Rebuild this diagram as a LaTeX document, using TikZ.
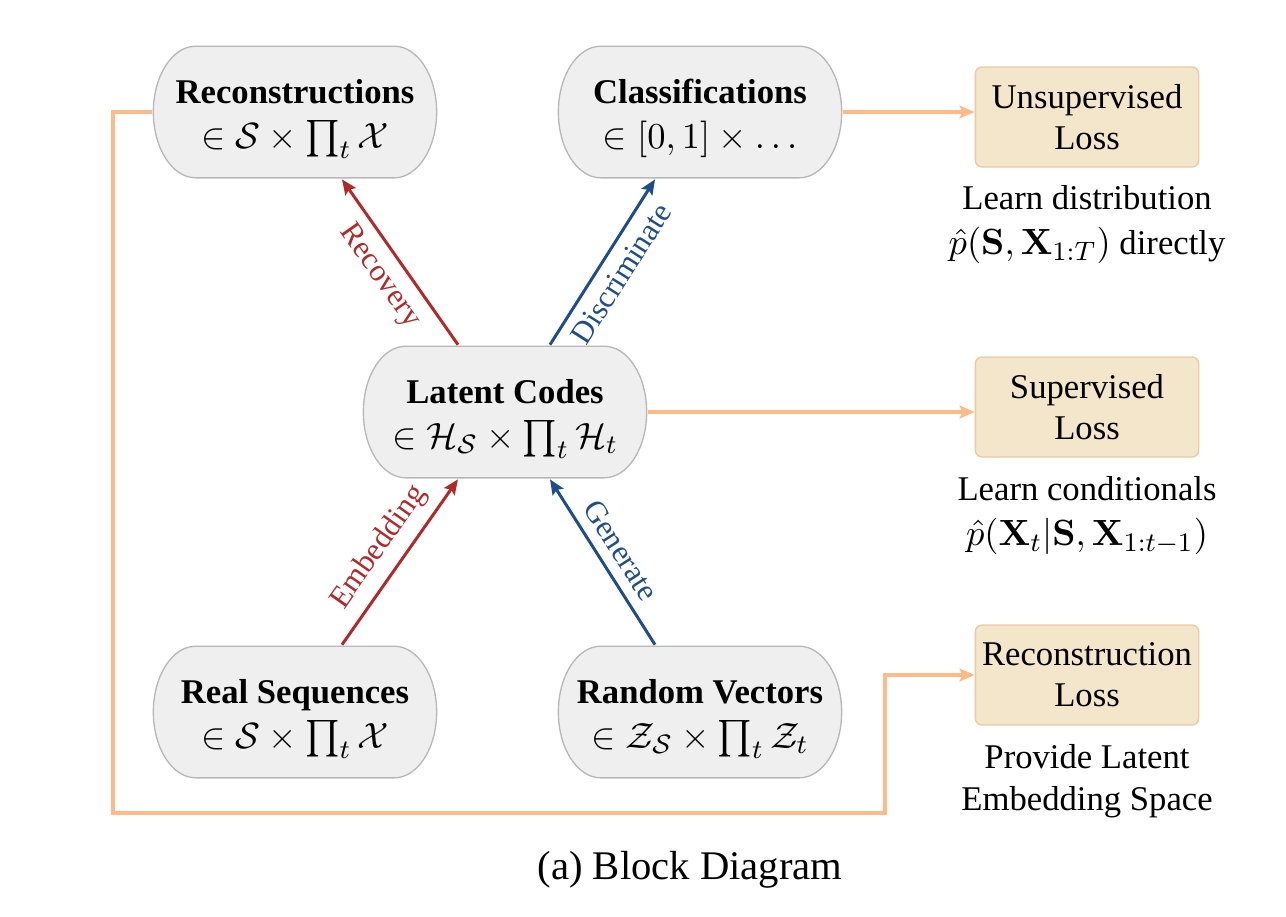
\documentclass[tikz,border=0pt]{standalone}
\usepackage{amsmath}
\usepackage[no-math]{fontspec}
\setmainfont{Liberation Serif}
\usepackage{xcolor}
\usetikzlibrary{arrows.meta}
\definecolor{boxgray}{HTML}{EFEFEF}
\definecolor{boxline}{HTML}{B8B8B8}
\definecolor{lossfill}{HTML}{F4E6CA}
\definecolor{lossline}{HTML}{EBC9A3}
\definecolor{fborange}{HTML}{FFBA8A}
\definecolor{recred}{HTML}{B02A2A}
\definecolor{genblue}{HTML}{1F4D8A}
\newcommand\mathline[1]{{\fontsize{11.3}{13.5}\selectfont$#1$}}
\tikzset{
  stadium/.style={rectangle,minimum width=85.5pt,minimum height=40pt,inner sep=0pt,align=center,
    path picture={\filldraw[draw=boxline,fill=boxgray,line width=0.4pt]
      ([xshift=13pt,yshift=-0.25pt]path picture bounding box.north west)
      -- ([xshift=-13pt,yshift=-0.25pt]path picture bounding box.north east)
      arc[start angle=90,end angle=-90,x radius=12.75pt,y radius=19.75pt]
      -- ([xshift=13pt,yshift=0.25pt]path picture bounding box.south west)
      arc[start angle=270,end angle=90,x radius=12.75pt,y radius=19.75pt] -- cycle;}},
  lossbox/.style={rectangle,rounded corners=2pt,draw=lossline,fill=lossfill,line width=0.4pt,minimum width=67pt,minimum height=30pt,align=center,inner sep=0pt,font=\fontsize{10.4}{12.3}\selectfont},
  note/.style={align=center,inner sep=0pt},
  arrlabel/.style={midway,sloped,inner sep=3pt,font=\fontsize{9.3}{11}\selectfont},
  redarr/.style={draw=recred,line width=0.9pt,-{Stealth[length=4.5pt,width=3.8pt,inset=0.8pt]}},
  bluearr/.style={draw=genblue,line width=0.9pt,-{Stealth[length=4.5pt,width=3.8pt,inset=0.8pt]}},
  fbarr/.style={draw=fborange,line width=1.1pt,-{Stealth[length=4.5pt,width=3.8pt,inset=0.8pt]}}
}

\begin{document}
\begin{tikzpicture}[x=0.3pt,y=-0.3pt,font=\fontsize{10.4}{13.5}\selectfont]
    \useasboundingbox (0,0) rectangle (1286,916);
    \node[stadium] (rec) at (295,112) {\rule{0pt}{11.4pt}\textbf{Reconstructions}\\ \mathline{\in\mathcal{S}\times\prod_t\mathcal{X}}};
    \node[stadium] (cls) at (700,112) {\rule{0pt}{11.4pt}\textbf{Classifications}\\ \mathline{\in[0,1]\times\ldots}};
    \node[stadium] (lat) at (505,412) {\rule{0pt}{11.4pt}\textbf{Latent Codes}\\ \mathline{\in\mathcal{H}_{\mathcal{S}}\times\prod_t\mathcal{H}_t}};
    \node[stadium] (real) at (295,712) {\rule{0pt}{11.4pt}\textbf{Real Sequences}\\ \mathline{\in\mathcal{S}\times\prod_t\mathcal{X}}};
    \node[stadium] (rand) at (700,712) {\rule{0pt}{11.4pt}\textbf{Random Vectors}\\ \mathline{\in\mathcal{Z}_{\mathcal{S}}\times\prod_t\mathcal{Z}_t}};

    \node[lossbox] (unsup) at (1087,117) {Unsupervised\\ Loss};
    \node[lossbox] (sup) at (1087,407) {Supervised\\ Loss};
    \node[lossbox] (recloss) at (1087,675) {Reconstruction\\ Loss};

    \node[note] (unsupnote) at (1087,225) {Learn distribution\\ \mathline{\hat{p}(\mathbf{S},\mathbf{X}_{1:T})} directly};
    \node[note] (supnote) at (1087,516) {Learn conditionals\\ \mathline{\hat{p}(\mathbf{X}_t|\mathbf{S},\mathbf{X}_{1:t-1})}};
    \node[note,font=\fontsize{10.4}{12.6}\selectfont] (recnote) at (1087,781) {Provide Latent\\ Embedding Space};

    \draw[redarr] ([xshift=-14.1pt]lat.north) -- node[arrlabel,below,text=recred]{Recovery} ([xshift=14.1pt]rec.south);
    \draw[bluearr] ([xshift=13.5pt]lat.north) -- node[arrlabel,below,text=genblue]{Discriminate} ([xshift=-13.5pt]cls.south);
    \draw[redarr] ([xshift=14.1pt]real.north) -- node[arrlabel,above,text=recred]{Embedding} ([xshift=-14.1pt]lat.south);
    \draw[bluearr] ([xshift=-13.5pt]rand.north) -- node[arrlabel,above,text=genblue]{Generate} ([xshift=13.5pt]lat.south);

    \draw[fbarr] (cls.east) -- (cls.east -| unsup.west);
    \draw[fbarr] (lat.east) -- (lat.east -| sup.west);
    \coordinate (fbl) at (113,813);
    \coordinate (fbr) at (885,813);
    \draw[fbarr] (rec.west) -| (fbl) -- (fbr) |- (recloss.west);

    \node (cap) at (690,870) {\fontsize{12.2}{14}\selectfont (a) Block Diagram};
\end{tikzpicture}
\end{document}
